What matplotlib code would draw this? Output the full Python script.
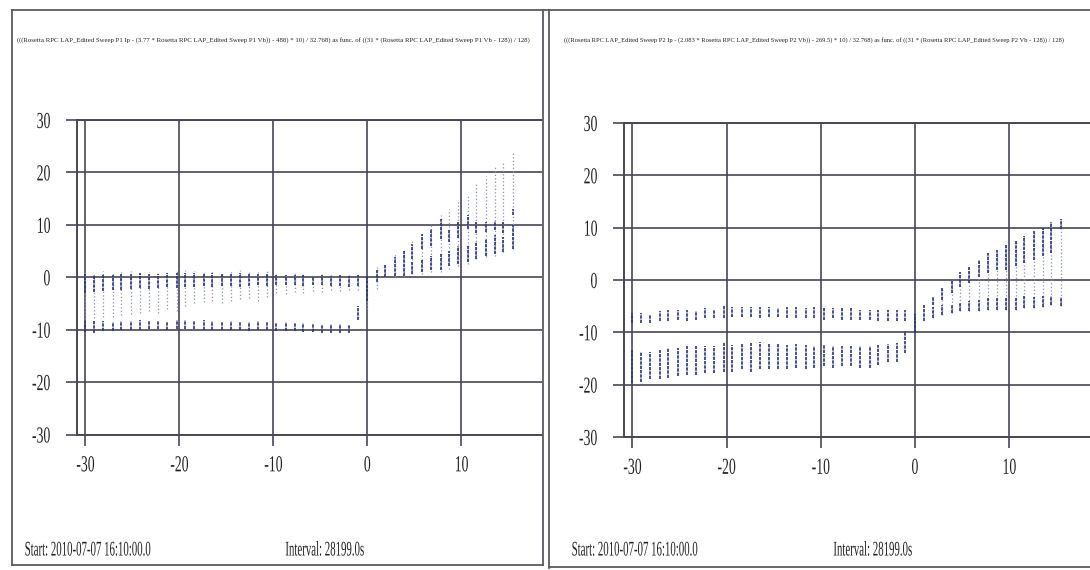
import numpy as np
import matplotlib
matplotlib.use("Agg")
import matplotlib.pyplot as plt
from matplotlib import patheffects
from matplotlib.transforms import Affine2D
from matplotlib.lines import Line2D

nan = np.nan

# sweep bias steps (x), same for both probes
x_vals = [-30.0, -29.1, -28.1, -27.1, -26.2, -25.2, -24.2, -23.2, -22.3, -21.3,
          -20.3, -19.4, -18.4, -17.4, -16.5, -15.5, -14.5, -13.6, -12.6, -11.6,
          -10.7, -9.7, -8.7, -7.7, -6.8, -5.8, -4.8, -3.9, -2.9, -1.9,
          -1.0, 0.0, 1.0, 1.9, 2.9, 3.9, 4.8, 5.8, 6.8, 7.8,
          8.7, 9.7, 10.7, 11.6, 12.6, 13.6, 14.5, 15.5]

# P1: faint spread of points per step
p1_faint_hi = [1.0, 0.9, 1.1, 0.8, 1.0, 1.1, 1.2, 1.0, 1.1, 1.2,
               1.2, 1.3, 1.2, 1.1, 1.2, 1.0, 1.1, 1.3, 1.1, 1.0,
               1.1, 0.9, 0.8, 0.9, 0.7, 0.6, 0.7, 0.6, 0.7, 0.6,
               0.7, 0.5, 1.9, 2.5, 4.5, 5.4, 7.2, 8.6, 9.9, 11.8,
               13.0, 14.6, 15.9, 17.8, 19.4, 21.0, 22.2, 23.8]
p1_faint_lo = [-8.0, -7.8, -7.5, -7.6, -7.2, -7.0, -6.8, -6.5, -6.8, -6.0,
               -6.5, -5.5, -5.0, -4.8, -4.5, -5.0, -4.6, -4.2, -4.0, -4.5,
               -3.8, -3.0, -3.2, -2.8, -3.0, -2.6, -2.8, -2.5, -2.6, -2.4,
               -2.5, -6.0, -2.2, 0.0, 0.0, 0.3, 0.6, 0.6, 1.0, 1.0,
               1.6, 2.2, 2.5, 3.5, 3.8, 4.1, 4.8, 5.4]
# P1: dense cluster near 0 (and middle band for positive bias)
p1_a_hi = [0.6, 0.5, 0.7, 0.5, 0.6, 0.7, 0.8, 0.6, 0.7, 0.8,
           0.8, 0.9, 0.8, 0.7, 0.8, 0.6, 0.7, 0.9, 0.7, 0.6,
           0.7, 0.5, 0.4, 0.5, 0.4, 0.3, 0.4, 0.3, 0.4, 0.3,
           0.4, 0.2, 1.5, 2.5, 3.8, 5.1, 6.4, 8.3, 9.2, 11.1,
           9.2, 10.5, 11.8, 10.5, 10.5, 10.8, 10.5, 13.0]
p1_a_lo = [-3.0, -2.8, -2.6, -2.5, -2.4, -2.2, -2.0, -2.2, -2.0, -1.9,
           -2.0, -1.8, -1.9, -1.7, -1.8, -1.6, -1.7, -1.8, -1.6, -1.5,
           -1.6, -1.5, -1.4, -1.5, -1.6, -1.4, -1.5, -1.6, -1.7, -1.8,
           -1.6, -4.5, -1.0, 0.0, 0.3, 1.9, 3.5, 5.4, 6.0, 7.3,
           6.7, 7.5, 9.2, 8.5, 8.6, 9.0, 8.5, 11.8]
# P1: dense cluster near -10 (and bottom band for positive bias)
p1_b_hi = [-8.3, -8.4, -8.4, -8.5, -8.3, -8.4, -8.2, -8.4, -8.3, -8.5,
           -8.2, -8.2, -8.3, -8.2, -8.3, -8.5, -8.4, -8.6, -8.5, -8.4,
           -8.6, -8.7, -8.6, -8.7, -8.8, -9.0, -9.1, -9.0, -9.0, -9.1,
           -5.5, nan, nan, nan, nan, 1.9, 2.9, 3.5, 4.1, 4.5,
           5.1, 6.0, 6.0, 6.7, 7.3, 8.0, 7.6, 9.9]
p1_b_lo = [-10.5, -10.6, -10.3, -10.2, -10.1, -10.0, -10.0, -9.9, -9.9, -10.0,
           -9.9, -9.8, -9.9, -10.0, -10.1, -10.0, -10.1, -10.0, -10.2, -10.1,
           -10.0, -10.2, -10.2, -10.3, -10.4, -10.5, -10.6, -10.7, -10.6, -10.7,
           -8.2, nan, nan, nan, nan, 0.3, 0.6, 1.0, 1.3, 1.3,
           2.2, 2.5, 2.9, 3.5, 4.1, 4.5, 4.8, 5.4]

# P2: faint points between the two bands (positive bias)
p2_faint_hi = [nan] * 33 + [-3.2, -1.6, 0.0, 1.6, 2.5, 3.8, 5.1, 5.7, 6.6, 7.4,
                            8.4, 9.4, 10.0, 11.0, 11.6]
p2_faint_lo = [nan] * 33 + [-7.3, -6.7, -6.3, -6.0, -6.0, -6.0, -5.7, -5.7, -5.7, -5.7,
                            -5.4, -5.4, -5.1, -4.8, -5.0]
# P2: upper band
p2_a_hi = [-6.3, -6.3, -6.7, -6.0, -5.7, -5.7, -5.7, -6.0, -5.4, -5.7,
           -4.8, -5.1, -5.1, -5.1, -5.1, -5.1, -5.4, -5.1, -5.1, -5.4,
           -5.1, -5.4, -5.4, -5.4, -5.4, -5.7, -5.7, -5.7, -5.7, -5.7,
           -5.7, -6.5, -4.8, -3.2, -1.6, 0.0, 1.6, 2.5, 3.8, 5.1,
           5.7, 6.6, 7.4, 8.4, 9.4, 10.0, 11.0, 11.6]
p2_a_lo = [-8.3, -8.3, -8.3, -7.9, -7.9, -7.6, -7.9, -7.7, -7.3, -7.3,
           -7.3, -7.0, -7.0, -7.0, -7.3, -7.0, -7.0, -7.3, -7.3, -7.3,
           -7.3, -7.6, -7.3, -7.6, -7.6, -7.6, -7.7, -7.9, -7.9, -7.9,
           -7.9, -10.2, -7.9, -4.8, -3.8, -2.5, -1.3, -0.6, 0.6, 1.3,
           1.9, 2.0, 2.6, 3.2, 3.9, 4.5, 5.2, 9.7]
# P2: lower band
p2_b_hi = [-13.3, -13.7, -13.7, -13.3, -13.0, -13.0, -12.7, -12.6, -12.6, -12.7,
           -12.1, -12.4, -12.2, -12.1, -11.9, -12.2, -12.2, -12.4, -12.2, -12.4,
           -12.7, -12.4, -12.6, -12.7, -12.7, -12.7, -12.7, -12.4, -12.2, -12.1,
           -9.8, nan, nan, -5.1, -4.8, -4.8, -4.4, -4.1, -3.8, -3.5,
           -3.5, -3.2, -3.2, -3.0, -3.2, -3.0, -3.0, -3.2]
p2_b_lo = [-19.7, -19.4, -19.0, -19.0, -18.7, -18.4, -18.1, -18.1, -17.8, -17.8,
           -17.5, -17.5, -17.1, -17.5, -17.1, -17.1, -17.0, -17.1, -16.8, -17.1,
           -16.8, -16.5, -16.8, -16.5, -16.5, -16.8, -16.8, -16.2, -15.7, -15.6,
           -14.0, nan, nan, -7.3, -6.7, -6.3, -6.0, -6.0, -6.0, -5.7,
           -5.7, -5.7, -5.7, -5.4, -5.4, -5.1, -4.8, -5.0]

x_ticks = [-30, -20, -10, 0, 10]
y_ticks = [-30, -20, -10, 0, 10, 20, 30]

title1 = ("(((Rosetta RPC LAP_Edited Sweep P1 Ip - (3.77 * Rosetta RPC LAP_Edited Sweep P1 Vb)) - 488) * 10) "
          "/ 32.768) as func. of ((31 * (Rosetta RPC LAP_Edited Sweep P1 Vb - 128)) / 128)")
title2 = ("(((Rosetta RPC LAP_Edited Sweep P2 Ip - (2.083 * Rosetta RPC LAP_Edited Sweep P2 Vb)) - 269.5) * 10) "
          "/ 32.768) as func. of ((31 * (Rosetta RPC LAP_Edited Sweep P2 Vb - 128)) / 128)")
start_text = "Start: 2010-07-07 16:10:00.0"
interval_text = "Interval: 28199.0s"

plt.rcParams["font.family"] = ["Liberation Serif", "DejaVu Serif"]
plt.rcParams["axes.unicode_minus"] = False

W, H = 1090, 570
grid_c = "#4a4556"
dark_c = "#2a3475"
faint_c = "#8a92c0"
text_c = "#222226"


class Squeeze(patheffects.AbstractPathEffect):
    """narrow the glyphs horizontally, like the scanned print"""

    def __init__(self, sx=0.65, anchor="left"):
        super().__init__()
        self.sx = sx
        self.anchor = anchor

    def draw_path(self, renderer, gc, tpath, affine, rgbFace=None):
        ext = tpath.get_extents(affine)
        if self.anchor == "left":
            x0 = ext.x0
        elif self.anchor == "right":
            x0 = ext.x1
        else:
            x0 = 0.5 * (ext.x0 + ext.x1)
        tr = affine + Affine2D().translate(-x0, 0).scale(self.sx, 1).translate(x0, 0)
        renderer.draw_path(gc, tpath, tr, rgbFace)


def px_rect(left, top, right, bottom):
    return [left / W, 1 - bottom / H, (right - left) / W, (bottom - top) / H]


def fig_line(xs, ys):
    fig.add_artist(Line2D([v / W for v in xs], [1 - v / H for v in ys],
                          transform=fig.transFigure, color="#5a5a60", lw=1.3))


def draw_panel(ax, faint_lo, faint_hi, a_lo, a_hi, b_lo, b_hi):
    x = np.array(x_vals)
    ax.vlines(x, faint_lo, faint_hi, colors=faint_c, linewidth=0.9,
              linestyles=(0, (1.0, 1.8)), zorder=3)
    ax.vlines(x, a_lo, a_hi, colors=dark_c, linewidth=1.2,
              linestyles=(0, (2.0, 0.6)), zorder=4)
    ax.vlines(x, b_lo, b_hi, colors=dark_c, linewidth=1.2,
              linestyles=(0, (2.0, 0.6)), zorder=4)

    ax.set_xlim(-30.9, 18.6)
    ax.set_ylim(-30, 30)
    ax.set_xticks(x_ticks)
    ax.set_yticks(y_ticks)
    ax.set_xticklabels([str(v) for v in x_ticks])
    ax.set_yticklabels([str(v) for v in y_ticks])
    ax.grid(True, color=grid_c, linewidth=1.2)
    for side in ["left", "bottom", "top"]:
        ax.spines[side].set_color(grid_c)
        ax.spines[side].set_linewidth(1.4)
    ax.spines["right"].set_visible(False)
    ax.tick_params(direction="out", length=8, width=1.2, color=grid_c,
                   labelsize=16.5, labelcolor=text_c)
    ax.tick_params(axis="x", pad=7)
    ax.tick_params(axis="y", pad=11)
    for lbl in ax.get_xticklabels():
        lbl.set_path_effects([Squeeze(0.6, "center")])
    for lbl in ax.get_yticklabels():
        lbl.set_path_effects([Squeeze(0.6, "right")])


fig = plt.figure(figsize=(W / 100, H / 100), dpi=100)

ax1 = fig.add_axes(px_rect(77, 120, 542, 434.5))
draw_panel(ax1, p1_faint_lo, p1_faint_hi, p1_a_lo, p1_a_hi, p1_b_lo, p1_b_hi)

ax2 = fig.add_axes(px_rect(624, 123, 1090, 437))
draw_panel(ax2, p2_faint_lo, p2_faint_hi, p2_a_lo, p2_a_hi, p2_b_lo, p2_b_hi)

# panel frames
fig_line([12, 1090], [10, 10])
fig_line([12, 12], [10, 565])
fig_line([12, 543], [565, 565])
fig_line([543, 543], [10, 565])
fig_line([549, 549], [10, 568])
fig_line([549, 1090], [567, 567])

# long expression titles
fig.text(17 / W, 1 - 40 / H, title1, fontsize=4.9, color=text_c, va="center")
fig.text(564 / W, 1 - 40 / H, title2, fontsize=4.65, color=text_c, va="center")

# footers
for x0, x1 in [(24, 285), (571, 833)]:
    fig.text(x0 / W, 1 - 551 / H, start_text, fontsize=15, color=text_c, va="center",
             path_effects=[Squeeze(0.52, "left")])
    fig.text(x1 / W, 1 - 551 / H, interval_text, fontsize=15, color=text_c, va="center",
             path_effects=[Squeeze(0.52, "left")])

fig.savefig("out.png", dpi=100, facecolor="white")
